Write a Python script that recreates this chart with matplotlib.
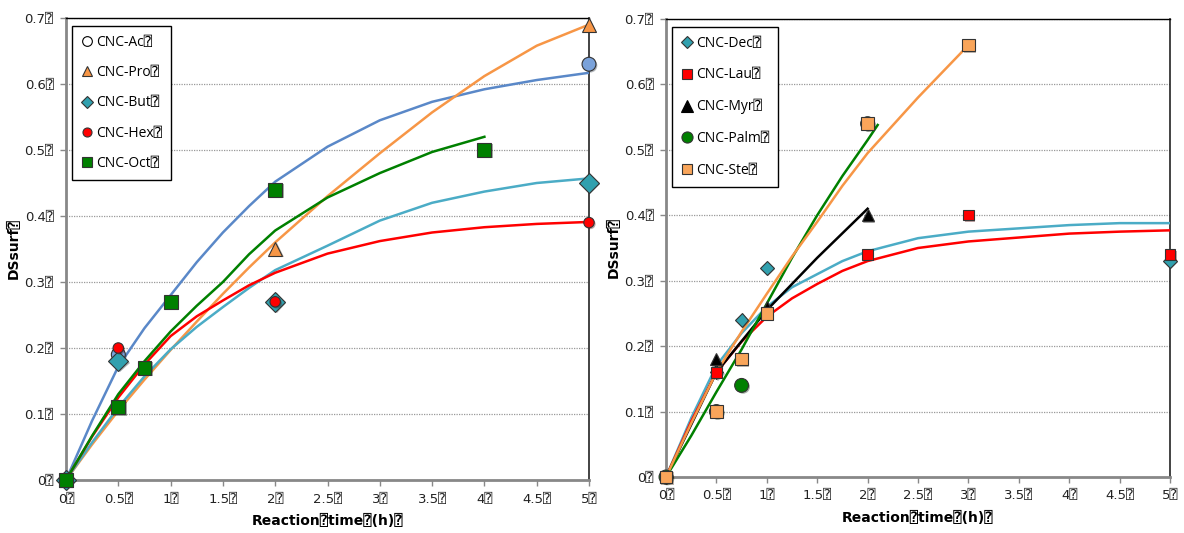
import matplotlib
matplotlib.use("Agg")
import matplotlib.pyplot as plt
from matplotlib.lines import Line2D
import matplotlib.patheffects as pe

Q = "\u2370"
FAM = ["DejaVu Sans", "DejaVu Sans Mono", "Noto Sans CJK SC"]
LFAM = ["Open Sans", "DejaVu Sans", "DejaVu Sans Mono"]

# ---------------- left panel data ----------------
fit_t_full = [0, 0.25, 0.5, 0.75, 1, 1.25, 1.5, 1.75, 2, 2.5, 3, 3.5, 4, 4.5, 5]
fit_ac = [0, 0.09, 0.172, 0.23, 0.28, 0.33, 0.375, 0.415, 0.452, 0.505, 0.545, 0.573, 0.592, 0.606, 0.617]
fit_pro = [0, 0.054, 0.105, 0.152, 0.197, 0.24, 0.282, 0.322, 0.36, 0.43, 0.495, 0.557, 0.612, 0.658, 0.69]
fit_but = [0, 0.057, 0.11, 0.157, 0.198, 0.232, 0.262, 0.291, 0.318, 0.355, 0.393, 0.42, 0.437, 0.45, 0.457]
fit_hex = [0, 0.066, 0.125, 0.175, 0.218, 0.248, 0.272, 0.295, 0.314, 0.343, 0.362, 0.375, 0.383, 0.388, 0.391]
fit_t_oct = [0, 0.25, 0.5, 0.75, 1, 1.25, 1.5, 1.75, 2, 2.5, 3, 3.5, 4]
fit_oct = [0, 0.067, 0.13, 0.18, 0.225, 0.264, 0.30, 0.342, 0.378, 0.428, 0.465, 0.497, 0.52]

t_ac = [0, 0.5, 5]
v_ac = [0, 0.19, 0.63]
t_pro = [0, 2, 5]
v_pro = [0, 0.35, 0.69]
t_but = [0, 0.5, 2, 5]
v_but = [0, 0.18, 0.27, 0.45]
t_hex = [0, 0.5, 2, 5]
v_hex = [0, 0.20, 0.27, 0.39]
t_oct = [0, 0.5, 0.75, 1, 2, 4]
v_oct = [0, 0.11, 0.17, 0.27, 0.44, 0.50]

# ---------------- right panel data ----------------
fit_dec = [0, 0.09, 0.17, 0.22, 0.26, 0.29, 0.31, 0.33, 0.345, 0.365, 0.375, 0.38, 0.385, 0.388, 0.388]
fit_lau = [0, 0.085, 0.16, 0.207, 0.245, 0.273, 0.295, 0.315, 0.33, 0.35, 0.36, 0.366, 0.372, 0.375, 0.377]
fit_t_myr = [0, 0.5, 1, 1.5, 2]
fit_myr = [0, 0.16, 0.255, 0.335, 0.41]
fit_t_palm = [0, 0.25, 0.5, 0.75, 1, 1.25, 1.5, 1.75, 2, 2.1]
fit_palm = [0, 0.063, 0.13, 0.195, 0.265, 0.335, 0.40, 0.46, 0.515, 0.538]
fit_t_ste = [0, 0.25, 0.5, 0.75, 1, 1.25, 1.5, 1.75, 2, 2.5, 3]
fit_ste = [0, 0.082, 0.16, 0.222, 0.28, 0.337, 0.39, 0.445, 0.495, 0.58, 0.66]

t_dec = [0, 0.5, 0.75, 1, 5]
v_dec = [0, 0.16, 0.24, 0.32, 0.33]
t_lau = [0, 0.5, 1, 2, 3, 5]
v_lau = [0, 0.16, 0.25, 0.34, 0.40, 0.34]
t_myr = [0, 0.5, 1, 2]
v_myr = [0, 0.18, 0.26, 0.40]
t_palm = [0, 0.5, 0.75, 2]
v_palm = [0, 0.10, 0.14, 0.54]
t_ste = [0, 0.5, 0.75, 1, 2, 3]
v_ste = [0, 0.10, 0.18, 0.25, 0.54, 0.66]

xticks = [0, 0.5, 1, 1.5, 2, 2.5, 3, 3.5, 4, 4.5, 5]
yticks = [0, 0.1, 0.2, 0.3, 0.4, 0.5, 0.6, 0.7]

C_BLUE_L = "#5A88C8"
C_BLUE_M = "#7AA2DA"
C_ORANGE = "#F79646"
C_TEAL_L = "#4BACC6"
C_TEAL_M = "#31A0AE"
C_RED = "#FF0000"
C_GREEN = "#008000"
C_BLACK = "#000000"

fig = plt.figure(figsize=(11.84, 5.33), dpi=100)
axL = fig.add_axes([66 / 1184, 1 - 480 / 533, (589 - 66) / 1184, (480 - 18) / 533])
axR = fig.add_axes([666 / 1184, 1 - 477 / 533, (1170 - 666) / 1184, (477 - 19) / 533])

shadow = [pe.SimplePatchShadow(offset=(1, -1), alpha=0.35), pe.Normal()]


def style_axes(ax, ylab_x):
    ax.set_xlim(0, 5)
    ax.set_ylim(0, 0.7)
    ax.set_xticks(xticks)
    ax.set_yticks(yticks)
    ax.set_xticklabels([f"{x:g}{Q}" for x in xticks], fontfamily=FAM, fontsize=9.5, color="#222222")
    ax.set_yticklabels([f"{y:g}{Q}" for y in yticks], fontfamily=FAM, fontsize=9.5, color="#222222")
    ax.tick_params(axis="both", direction="out", length=4, width=1, color="#888888", pad=5)
    ax.grid(axis="y", linestyle=(0, (1, 1)), color="#999999", linewidth=0.9)
    ax.set_axisbelow(True)
    ax.spines["left"].set_color("#888888")
    ax.spines["left"].set_linewidth(2)
    ax.spines["bottom"].set_color("#888888")
    ax.spines["bottom"].set_linewidth(2)
    ax.spines["top"].set_color("#000000")
    ax.spines["top"].set_linewidth(1)
    ax.spines["right"].set_color("#222222")
    ax.spines["right"].set_linewidth(1.2)
    ax.set_xlabel(f"Reaction{Q}time{Q}(h){Q}", fontfamily=FAM, fontsize=10, fontweight="bold", labelpad=6)
    ax.set_ylabel(f"DSsurf{Q}", fontfamily=FAM, fontsize=10, fontweight="bold")
    ax.yaxis.set_label_coords(ylab_x, 0.5)


style_axes(axL, -0.086)
style_axes(axR, -0.089)

# left lines
axL.plot(fit_t_full, fit_ac, color=C_BLUE_L, lw=1.8, zorder=3)
axL.plot(fit_t_full, fit_pro, color=C_ORANGE, lw=1.8, zorder=3)
axL.plot(fit_t_full, fit_but, color=C_TEAL_L, lw=1.8, zorder=3)
axL.plot(fit_t_full, fit_hex, color=C_RED, lw=1.8, zorder=3)
axL.plot(fit_t_oct, fit_oct, color=C_GREEN, lw=1.8, zorder=3)

mk = dict(linestyle="none", markeredgecolor="#333333", markeredgewidth=0.8, clip_on=False, path_effects=shadow)
axL.plot(t_ac, v_ac, marker="o", ms=10, markerfacecolor=C_BLUE_M, zorder=5, **mk)
axL.plot(t_pro, v_pro, marker="^", ms=10, markerfacecolor=C_ORANGE, zorder=5, **mk)
axL.plot(t_but, v_but, marker="D", ms=10, markerfacecolor=C_TEAL_M, zorder=6, **mk)
axL.plot(t_hex, v_hex, marker="o", ms=7.5, markerfacecolor=C_RED, zorder=7, **mk)
axL.plot(t_oct, v_oct, marker="s", ms=10, markerfacecolor=C_GREEN, zorder=8, **mk)

legL = [
    Line2D([], [], linestyle="none", marker="o", ms=7, markerfacecolor="white", markeredgecolor="black", markeredgewidth=0.8, label=f"CNC-Ac{Q}"),
    Line2D([], [], linestyle="none", marker="^", ms=7, markerfacecolor=C_ORANGE, markeredgecolor="#333333", markeredgewidth=0.8, label=f"CNC-Pro{Q}"),
    Line2D([], [], linestyle="none", marker="D", ms=6, markerfacecolor=C_TEAL_M, markeredgecolor="#333333", markeredgewidth=0.8, label=f"CNC-But{Q}"),
    Line2D([], [], linestyle="none", marker="o", ms=6.5, markerfacecolor=C_RED, markeredgecolor="#333333", markeredgewidth=0.8, label=f"CNC-Hex{Q}"),
    Line2D([], [], linestyle="none", marker="s", ms=7, markerfacecolor=C_GREEN, markeredgecolor="#333333", markeredgewidth=0.8, label=f"CNC-Oct{Q}"),
]
lg = axL.legend(handles=legL, loc="upper left", bbox_to_anchor=(0.012, 0.983), prop={"family": LFAM, "size": 10},
                frameon=True, fancybox=False, edgecolor="black", framealpha=1, labelspacing=1.1,
                handlelength=0.8, handletextpad=0.25, borderpad=0.65, borderaxespad=0)
lg.get_frame().set_linewidth(1)

# right lines
axR.plot(fit_t_full, fit_dec, color=C_TEAL_L, lw=1.8, zorder=3)
axR.plot(fit_t_full, fit_lau, color=C_RED, lw=1.8, zorder=3)
axR.plot(fit_t_myr, fit_myr, color=C_BLACK, lw=1.8, zorder=3)
axR.plot(fit_t_palm, fit_palm, color=C_GREEN, lw=1.8, zorder=3)
axR.plot(fit_t_ste, fit_ste, color=C_ORANGE, lw=1.8, zorder=3)

axR.plot(t_dec, v_dec, marker="D", ms=7, markerfacecolor=C_TEAL_M, zorder=5, **mk)
axR.plot(t_lau, v_lau, marker="s", ms=7.5, markerfacecolor=C_RED, zorder=6, **mk)
axR.plot(t_myr, v_myr, marker="^", ms=8.5, markerfacecolor=C_BLACK, zorder=7, **mk)
axR.plot(t_palm, v_palm, marker="o", ms=10, markerfacecolor=C_GREEN, zorder=8, **mk)
axR.plot(t_ste, v_ste, marker="s", ms=9, markerfacecolor="#F9A55A", zorder=9, **mk)

legR = [
    Line2D([], [], linestyle="none", marker="D", ms=6, markerfacecolor=C_TEAL_M, markeredgecolor="#333333", markeredgewidth=0.8, label=f"CNC-Dec{Q}"),
    Line2D([], [], linestyle="none", marker="s", ms=7, markerfacecolor=C_RED, markeredgecolor="#333333", markeredgewidth=0.8, label=f"CNC-Lau{Q}"),
    Line2D([], [], linestyle="none", marker="^", ms=8, markerfacecolor=C_BLACK, markeredgecolor="#000000", markeredgewidth=0.8, label=f"CNC-Myr{Q}"),
    Line2D([], [], linestyle="none", marker="o", ms=8, markerfacecolor=C_GREEN, markeredgecolor="#333333", markeredgewidth=0.8, label=f"CNC-Palm{Q}"),
    Line2D([], [], linestyle="none", marker="s", ms=7, markerfacecolor="#F9A55A", markeredgecolor="#333333", markeredgewidth=0.8, label=f"CNC-Ste{Q}"),
]
lg2 = axR.legend(handles=legR, loc="upper left", bbox_to_anchor=(0.012, 0.983), prop={"family": LFAM, "size": 10},
                 frameon=True, fancybox=False, edgecolor="black", framealpha=1, labelspacing=1.2,
                 handlelength=0.8, handletextpad=0.25, borderpad=0.65, borderaxespad=0)
lg2.get_frame().set_linewidth(1)

fig.savefig("out.png", dpi=100)
